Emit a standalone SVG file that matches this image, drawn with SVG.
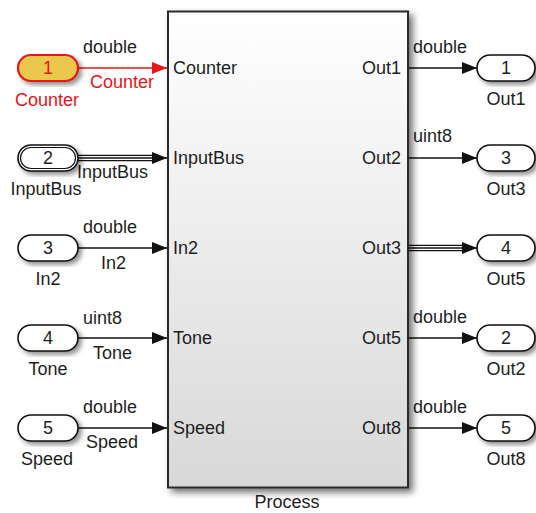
<svg xmlns="http://www.w3.org/2000/svg" width="536" height="513" viewBox="0 0 536 513">
<style>
text{font-family:"Liberation Sans",Arial,sans-serif;font-size:18px;fill:#1e1e1e}
.red{fill:#e8141a}
.c{text-anchor:middle}
.e{text-anchor:end}
.pill{fill:#fff;stroke:#111;stroke-width:1.6}
.ln{stroke:#111;stroke-width:1.3;fill:none}
</style>
<defs>
<linearGradient id="g" x1="0" y1="0" x2="0" y2="1">
<stop offset="0" stop-color="#ffffff"/>
<stop offset="1" stop-color="#d8d8d8"/>
</linearGradient>
<filter id="sh" x="-10%" y="-10%" width="130%" height="130%">
<feGaussianBlur in="SourceAlpha" stdDeviation="2.5"/>
<feOffset dx="3" dy="3" result="b"/>
<feComponentTransfer><feFuncA type="linear" slope="0.45"/></feComponentTransfer>
<feMerge><feMergeNode/><feMergeNode in="SourceGraphic"/></feMerge>
</filter>
<filter id="shb" x="-10%" y="-10%" width="130%" height="130%">
<feGaussianBlur in="SourceAlpha" stdDeviation="3.5"/>
<feOffset dx="4" dy="4" result="b"/>
<feComponentTransfer><feFuncA type="linear" slope="0.55"/></feComponentTransfer>
<feMerge><feMergeNode/><feMergeNode in="SourceGraphic"/></feMerge>
</filter>
<marker id="ab" markerUnits="userSpaceOnUse" markerWidth="15" markerHeight="12" refX="15" refY="6" orient="auto"><path d="M0,0 L15,6 L0,12 z" fill="#111"/></marker>
<marker id="ar" markerUnits="userSpaceOnUse" markerWidth="15" markerHeight="12" refX="15" refY="6" orient="auto"><path d="M0,0 L15,6 L0,12 z" fill="#e8141a"/></marker>
</defs>

<g id="connectors">
<line x1="78" y1="68" x2="167" y2="68" stroke="#e8141a" stroke-width="1.5" marker-end="url(#ar)"/>
<line x1="78" y1="158" x2="155" y2="158" stroke="#111" stroke-width="6.5"/>
<line x1="78" y1="158" x2="155" y2="158" stroke="#fff" stroke-width="4"/>
<line x1="78" y1="158" x2="167" y2="158" class="ln" marker-end="url(#ab)"/>
<line x1="78" y1="248" x2="167" y2="248" class="ln" marker-end="url(#ab)"/>
<line x1="78" y1="338" x2="167" y2="338" class="ln" marker-end="url(#ab)"/>
<line x1="78" y1="428" x2="167" y2="428" class="ln" marker-end="url(#ab)"/>
<line x1="409" y1="68" x2="477" y2="68" class="ln" marker-end="url(#ab)"/>
<line x1="409" y1="158" x2="477" y2="158" class="ln" marker-end="url(#ab)"/>
<line x1="409" y1="248" x2="465" y2="248" stroke="#111" stroke-width="6.5"/>
<line x1="409" y1="248" x2="465" y2="248" stroke="#fff" stroke-width="4"/>
<line x1="409" y1="248" x2="477" y2="248" class="ln" marker-end="url(#ab)"/>
<line x1="409" y1="338" x2="477" y2="338" class="ln" marker-end="url(#ab)"/>
<line x1="409" y1="428" x2="477" y2="428" class="ln" marker-end="url(#ab)"/>
<text x="83" y="53">double</text>
<text x="90" y="88" class="red">Counter</text>
<text x="77" y="178">InputBus</text>
<text x="83" y="233">double</text>
<text x="101" y="269">In2</text>
<text x="83" y="324">uint8</text>
<text x="93" y="359">Tone</text>
<text x="83" y="413">double</text>
<text x="86" y="448">Speed</text>
<text x="413" y="53">double</text>
<text x="413" y="142">uint8</text>
<text x="413" y="323">double</text>
<text x="413" y="413">double</text>
</g>

<g id="Process">
<rect x="168" y="11.5" width="240" height="476" fill="url(#g)" stroke="#2a2a2a" stroke-width="2" filter="url(#shb)"/>
<text x="173" y="74">Counter</text>
<text x="173" y="164">InputBus</text>
<text x="173" y="254">In2</text>
<text x="173" y="344">Tone</text>
<text x="173" y="434">Speed</text>
<text x="401" y="74" class="e">Out1</text>
<text x="401" y="164" class="e">Out2</text>
<text x="401" y="254" class="e">Out3</text>
<text x="401" y="344" class="e">Out5</text>
<text x="401" y="434" class="e">Out8</text>
<text x="287" y="508" class="c">Process</text>
</g>

<g id="in_Counter">
<rect x="18" y="55" width="60" height="26" rx="13" fill="#e9c84b" stroke="#e8141a" stroke-width="2.2" filter="url(#sh)"/>
<text x="48" y="74" class="c red">1</text>
<text x="47" y="106" class="c red">Counter</text>
</g>
<g id="in_InputBus">
<rect x="18" y="145" width="60" height="26" rx="13" class="pill" filter="url(#sh)"/>
<rect x="20.5" y="147.5" width="55" height="21" rx="10.5" fill="none" stroke="#111" stroke-width="1.2"/>
<text x="48" y="164" class="c">2</text>
<text x="46" y="195" class="c">InputBus</text>
</g>
<g id="in_In2">
<rect x="18" y="235" width="60" height="26" rx="13" class="pill" filter="url(#sh)"/>
<text x="48" y="254" class="c">3</text>
<text x="48" y="285" class="c">In2</text>
</g>
<g id="in_Tone">
<rect x="18" y="325" width="60" height="26" rx="13" class="pill" filter="url(#sh)"/>
<text x="48" y="344" class="c">4</text>
<text x="48" y="375" class="c">Tone</text>
</g>
<g id="in_Speed">
<rect x="18" y="415" width="60" height="26" rx="13" class="pill" filter="url(#sh)"/>
<text x="48" y="434" class="c">5</text>
<text x="47" y="465" class="c">Speed</text>
</g>

<g id="out_Out1">
<rect x="477" y="55" width="58" height="26" rx="13" class="pill" filter="url(#sh)"/>
<text x="506" y="74" class="c">1</text>
<text x="506" y="105" class="c">Out1</text>
</g>
<g id="out_Out3">
<rect x="477" y="145" width="58" height="26" rx="13" class="pill" filter="url(#sh)"/>
<text x="506" y="164" class="c">3</text>
<text x="506" y="195" class="c">Out3</text>
</g>
<g id="out_Out5">
<rect x="477" y="235" width="58" height="26" rx="13" class="pill" filter="url(#sh)"/>
<text x="506" y="254" class="c">4</text>
<text x="506" y="285" class="c">Out5</text>
</g>
<g id="out_Out2">
<rect x="477" y="325" width="58" height="26" rx="13" class="pill" filter="url(#sh)"/>
<text x="506" y="344" class="c">2</text>
<text x="506" y="375" class="c">Out2</text>
</g>
<g id="out_Out8">
<rect x="477" y="415" width="58" height="26" rx="13" class="pill" filter="url(#sh)"/>
<text x="506" y="434" class="c">5</text>
<text x="506" y="465" class="c">Out8</text>
</g>
</svg>
